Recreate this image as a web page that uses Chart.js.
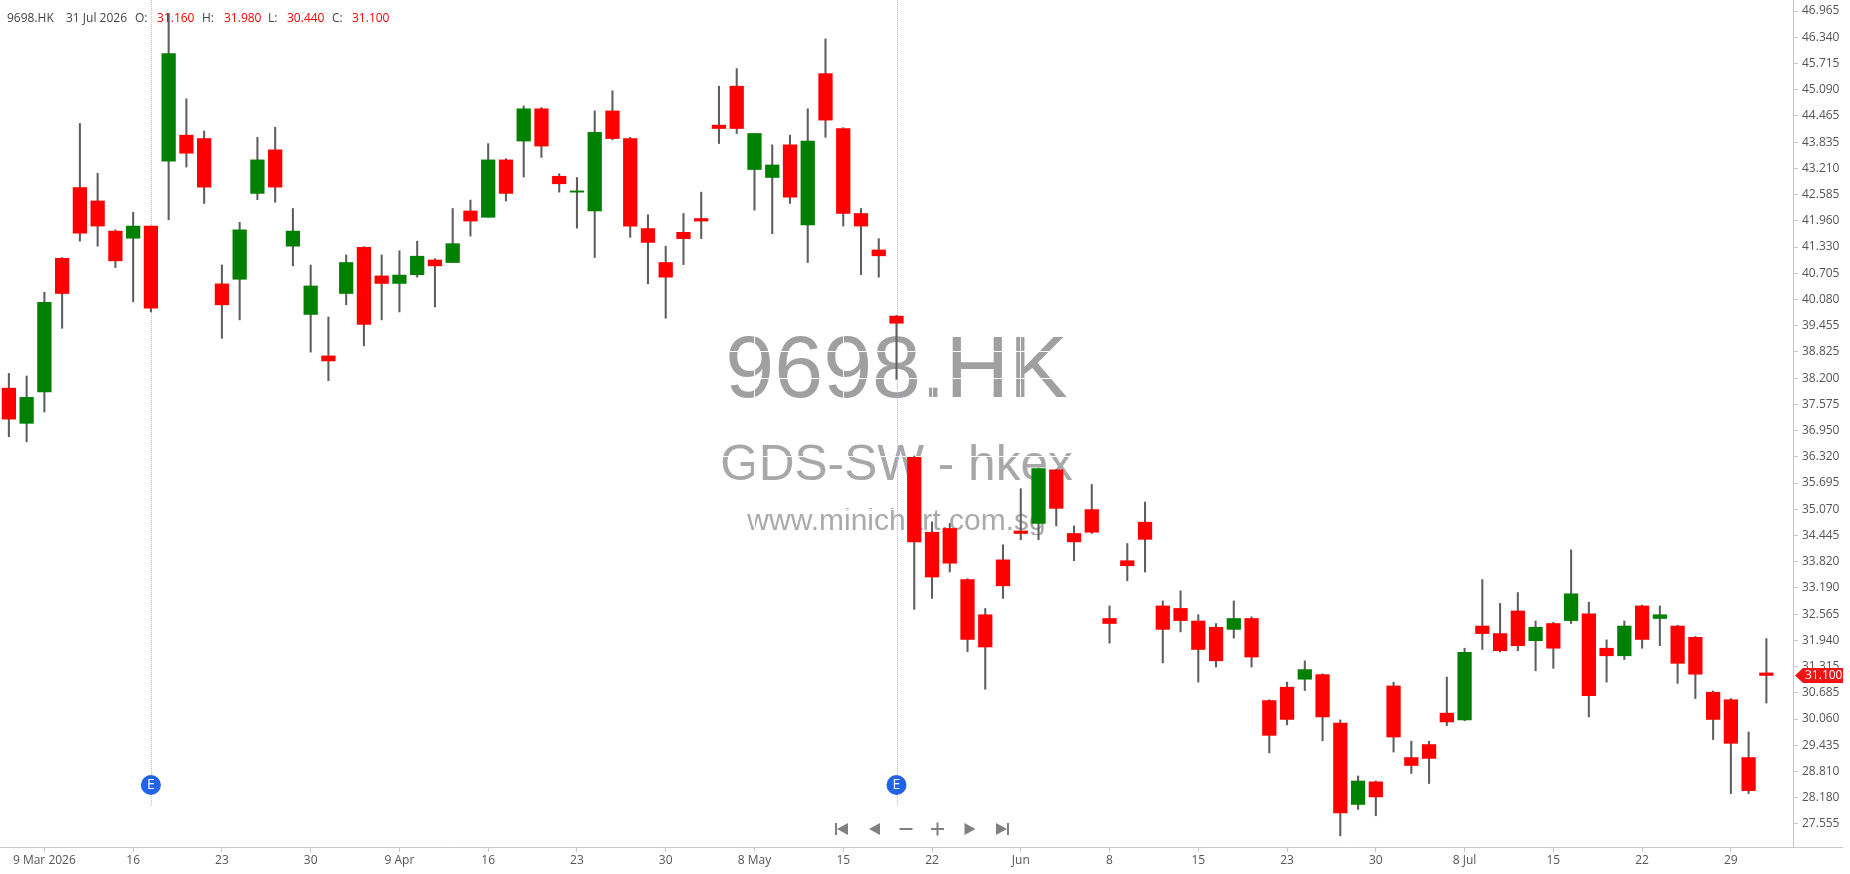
<!DOCTYPE html>
<html>
<head>
<meta charset="utf-8">
<title>9698.HK</title>
<script src="https://cdn.jsdelivr.net/npm/chart.js@4"></script>
<style>
html,body{margin:0;padding:0;background:#fff;overflow:hidden}
canvas{display:block}
</style>
</head>
<body>
<canvas id="c" width="1850" height="874"></canvas>
<script>
const categories = ['5 Mar','6 Mar','9 Mar','10 Mar','11 Mar','12 Mar','13 Mar','16 Mar','17 Mar','18 Mar','19 Mar','20 Mar','23 Mar','24 Mar','25 Mar','26 Mar','27 Mar','30 Mar','31 Mar','1 Apr','2 Apr','8 Apr','9 Apr','10 Apr','13 Apr','14 Apr','15 Apr','16 Apr','17 Apr','20 Apr','21 Apr','22 Apr','23 Apr','24 Apr','27 Apr','28 Apr','29 Apr','30 Apr','4 May','5 May','6 May','7 May','8 May','11 May','12 May','13 May','14 May','15 May','18 May','19 May','20 May','21 May','22 May','26 May','27 May','28 May','29 May','1 Jun','2 Jun','3 Jun','4 Jun','5 Jun','8 Jun','9 Jun','10 Jun','11 Jun','12 Jun','15 Jun','16 Jun','17 Jun','18 Jun','22 Jun','23 Jun','24 Jun','25 Jun','26 Jun','29 Jun','30 Jun','2 Jul','3 Jul','6 Jul','7 Jul','8 Jul','9 Jul','10 Jul','13 Jul','14 Jul','15 Jul','16 Jul','17 Jul','20 Jul','21 Jul','22 Jul','23 Jul','24 Jul','27 Jul','28 Jul','29 Jul','30 Jul','31 Jul'];
const opens = [37.96,37.12,37.87,41.06,42.75,42.43,41.71,41.54,41.83,43.38,44.00,43.92,40.45,40.56,42.61,43.65,41.35,39.72,38.73,40.22,41.32,40.64,40.46,40.67,41.02,40.96,42.19,42.04,43.41,43.86,44.63,43.02,42.64,42.19,44.58,43.92,41.77,40.96,41.68,42.01,44.24,45.17,43.18,42.99,43.77,41.86,45.47,44.16,42.13,41.26,39.68,36.31,34.52,34.61,33.39,32.55,33.86,34.55,34.73,36.01,34.49,35.06,32.46,33.84,34.76,32.76,32.70,32.40,32.25,32.20,32.46,30.50,30.82,31.01,31.12,29.96,28.02,28.56,30.85,29.14,29.45,30.20,30.04,32.28,32.10,32.64,31.93,32.34,32.41,32.57,31.75,31.57,32.76,32.46,32.28,32.01,30.70,30.52,29.14,31.16];
const highs = [38.31,38.25,40.25,41.08,44.28,43.09,41.74,42.16,41.83,46.91,44.87,44.10,40.90,41.92,43.95,44.19,42.25,40.90,39.66,41.14,41.34,41.14,41.24,41.47,41.05,42.25,42.45,43.80,43.44,44.70,44.66,43.08,42.99,44.58,45.06,43.95,42.10,41.35,42.13,42.64,45.17,45.59,44.04,43.77,44.00,44.63,46.30,44.18,42.25,41.53,39.70,36.34,34.77,34.73,33.41,32.70,34.22,35.56,36.05,36.02,34.67,35.66,32.76,34.25,35.24,32.88,33.12,32.55,32.34,32.88,32.50,30.52,30.94,31.45,31.14,30.04,28.70,28.58,30.94,29.53,29.53,31.06,31.75,33.39,32.82,33.08,32.40,32.37,34.10,32.85,31.95,32.40,32.78,32.76,32.30,32.03,30.73,30.55,29.75,31.98];
const lows = [36.80,36.68,37.39,39.39,41.47,41.35,40.84,40.02,39.78,41.98,43.24,42.37,39.15,39.59,42.46,42.40,40.88,38.82,38.14,39.95,38.97,39.59,39.78,40.61,39.90,40.96,41.59,42.04,42.43,43.00,43.47,42.64,41.78,41.08,43.89,41.56,40.45,39.63,40.91,41.53,43.80,44.04,42.21,41.65,42.37,40.96,43.95,41.83,40.67,40.61,38.17,32.68,32.94,33.57,31.67,30.77,32.94,34.34,34.34,34.67,33.84,34.49,31.87,33.36,33.57,31.40,32.14,30.94,31.30,31.99,31.30,29.25,29.92,30.74,29.54,27.27,27.90,27.75,29.27,28.76,28.52,29.90,30.02,31.72,31.66,31.69,31.21,31.27,32.34,30.11,30.94,31.48,31.75,31.81,30.91,30.55,29.57,28.28,28.28,30.44];
const closes = [37.22,37.74,40.01,40.22,41.66,41.83,41.00,41.83,39.87,45.95,43.57,42.76,39.95,41.74,43.41,42.76,41.71,40.40,38.61,40.96,39.48,40.46,40.66,41.11,40.88,41.41,41.95,43.41,42.61,44.63,43.74,42.84,42.67,44.07,43.92,41.83,41.44,40.61,41.53,41.95,44.16,44.16,44.04,43.29,42.52,43.86,44.36,42.13,41.83,41.12,39.51,34.29,33.45,33.78,31.96,31.78,33.24,34.49,36.04,35.09,34.29,34.52,32.34,33.72,34.35,32.20,32.41,31.72,31.45,32.46,31.54,29.67,30.05,31.24,30.11,27.82,28.58,28.20,29.63,28.95,29.12,29.99,31.65,32.10,31.69,31.81,32.25,31.75,33.05,30.62,31.57,32.28,31.96,32.55,31.39,31.13,30.05,29.48,28.35,31.10];
const priceTicks = [46.965,46.340,45.715,45.090,44.465,43.835,43.210,42.585,41.960,41.330,40.705,40.080,39.455,38.825,38.200,37.575,36.950,36.320,35.695,35.070,34.445,33.820,33.190,32.565,31.940,31.315,30.685,30.060,29.435,28.810,28.180,27.555];
const dateTickLabels = ['9 Mar 2026','16','23','30','9 Apr','16','23','30','8 May','15','22','Jun','8','15','23','30','8 Jul','15','22','29'];
const earningsDays = ['17 Mar','20 May'];
const headerParts = [['9698.HK',7,'#444'],['31 Jul 2026',66,'#444'],['O:',135,'#444'],['31.160',157,'#f00'],['H:',202,'#444'],['31.980',224,'#f00'],['L:',268,'#444'],['30.440',287,'#f00'],['C:',332,'#444'],['31.100',352,'#f00']];

const UI_FONT = '"Open Sans", sans-serif';
const WM_FONT = '"Liberation Sans", Arial, sans-serif';

const watermarkPlugin = {
  id: 'watermark',
  beforeDraw(chart) {
    const {ctx, chartArea: a} = chart;
    const cx = (a.left + a.right) / 2;
    ctx.save();
    ctx.textAlign = 'center';
    ctx.textBaseline = 'alphabetic';
    ctx.fillStyle = '#a0a0a0';
    ctx.font = '88px ' + WM_FONT;
    ctx.fillText('9698.HK', cx, 397);
    ctx.fillStyle = '#a8a8a8';
    ctx.font = '49.6px ' + WM_FONT;
    ctx.fillText('GDS-SW - hkex', cx, 480);
    ctx.fillStyle = '#aaaaaa';
    ctx.font = '30px ' + WM_FONT;
    ctx.fillText('www.minichart.com.sg', cx, 530);
    ctx.restore();
  },
  beforeDatasetsDraw(chart) {
    const {ctx, scales: {x}} = chart;
    ctx.save();
    ctx.strokeStyle = '#a9c1ea';
    ctx.lineWidth = 1;
    ctx.setLineDash([1, 1]);
    earningsDays.forEach(d => {
      const px = Math.round(x.getPixelForValue(categories.indexOf(d))) + 0.5;
      ctx.beginPath();
      ctx.moveTo(px, 0);
      ctx.lineTo(px, 806);
      ctx.stroke();
    });
    ctx.restore();
  },
  afterDraw(chart) {
    const {ctx, chartArea: a, scales: {x, y}} = chart;
    ctx.save();
    ctx.strokeStyle = '#c8c8c8';
    ctx.lineWidth = 1;
    ctx.beginPath();
    ctx.moveTo(a.right, a.bottom + 0.5);
    ctx.lineTo(1843, a.bottom + 0.5);
    ctx.stroke();

    ctx.font = '12px ' + UI_FONT;
    ctx.textAlign = 'left';
    ctx.textBaseline = 'middle';
    headerParts.forEach(([t, px, col]) => {
      ctx.fillStyle = col;
      ctx.fillText(t, px, 18.5);
    });

    earningsDays.forEach(d => {
      const px = x.getPixelForValue(categories.indexOf(d));
      ctx.fillStyle = '#2363e8';
      ctx.beginPath();
      ctx.arc(px, 785, 10, 0, Math.PI * 2);
      ctx.fill();
      ctx.fillStyle = '#fff';
      ctx.font = '14px ' + UI_FONT;
      ctx.textAlign = 'center';
      ctx.textBaseline = 'middle';
      ctx.fillText('E', px, 785);
    });

    const last = closes[closes.length - 1];
    const ty = y.getPixelForValue(last);
    ctx.fillStyle = '#f01414';
    ctx.beginPath();
    ctx.moveTo(1795, ty);
    ctx.lineTo(1803, ty - 7.5);
    ctx.lineTo(1843, ty - 7.5);
    ctx.lineTo(1843, ty + 7.5);
    ctx.lineTo(1803, ty + 7.5);
    ctx.closePath();
    ctx.fill();
    ctx.fillStyle = '#fff';
    ctx.font = '12px ' + UI_FONT;
    ctx.textAlign = 'left';
    ctx.fillText(last.toFixed(3), 1805, ty + 0.5);

    const cy = 829;
    ctx.fillStyle = '#808080';
    const tri = (tip, base, h) => {
      ctx.beginPath();
      ctx.moveTo(tip, cy);
      ctx.lineTo(base, cy - h);
      ctx.lineTo(base, cy + h);
      ctx.closePath();
      ctx.fill();
    };
    ctx.fillRect(835, cy - 6, 2, 12);
    tri(837, 848, 6);
    tri(869, 880, 6);
    ctx.fillRect(899.5, cy - 1, 13, 2);
    ctx.fillRect(931, cy - 1, 13, 2);
    ctx.fillRect(936.5, cy - 6.5, 2, 13);
    tri(975.5, 964.5, 6);
    tri(1007, 996, 6);
    ctx.fillRect(1007, cy - 6, 2, 12);
    ctx.restore();
  }
};

new Chart(document.getElementById('c'), {
  type: 'bar',
  plugins: [watermarkPlugin],
  data: {
    labels: [...categories, ''],
    datasets: [
      {
        label: 'High-Low',
        data: lows.map((l, i) => [l, highs[i]]),
        backgroundColor: '#5e5e5e',
        barThickness: 1.4,
        grouped: false,
        order: 2
      },
      {
        label: 'Open-Close',
        data: opens.map((o, i) => [o, closes[i]]),
        backgroundColor: opens.map((o, i) => closes[i] >= o ? '#008000' : '#ff0000'),
        barThickness: 13.6,
        grouped: false,
        order: 1
      }
    ]
  },
  options: {
    responsive: false,
    animation: false,
    devicePixelRatio: 1,
    layout: {padding: 0},
    plugins: {legend: {display: false}, tooltip: {enabled: false}, title: {display: false}},
    scales: {
      x: {
        type: 'category',
        offset: true,
        afterBuildTicks(s) {
          s.ticks = s.ticks.filter(t => t.value >= 2 && (t.value - 2) % 5 === 0 && t.value < categories.length);
        },
        afterFit(s) { s.height = 27; s.paddingLeft = 0; s.paddingRight = 0; },
        grid: {color: '#ffffff', lineWidth: 1, tickColor: '#c8c8c8', tickLength: 5, offset: false},
        border: {color: '#c8c8c8'},
        ticks: {
          autoSkip: false,
          maxRotation: 0,
          minRotation: 0,
          padding: 1,
          color: '#555555',
          font: {family: UI_FONT, size: 12},
          callback(v, i) { return dateTickLabels[i]; }
        }
      },
      y: {
        type: 'linear',
        position: 'right',
        min: 27.004,
        max: 47.228,
        afterBuildTicks(s) { s.ticks = priceTicks.map(v => ({value: v})); },
        afterFit(s) { s.width = 57; s.paddingTop = 0; s.paddingBottom = 0; },
        grid: {color: '#ffffff', lineWidth: 1, tickColor: '#c8c8c8', tickLength: 5},
        border: {color: '#c8c8c8'},
        ticks: {
          autoSkip: false,
          padding: 4,
          color: '#555555',
          font: {family: UI_FONT, size: 12},
          callback(v) { return Number(v).toFixed(3); }
        }
      }
    }
  }
});
</script>
</body>
</html>
